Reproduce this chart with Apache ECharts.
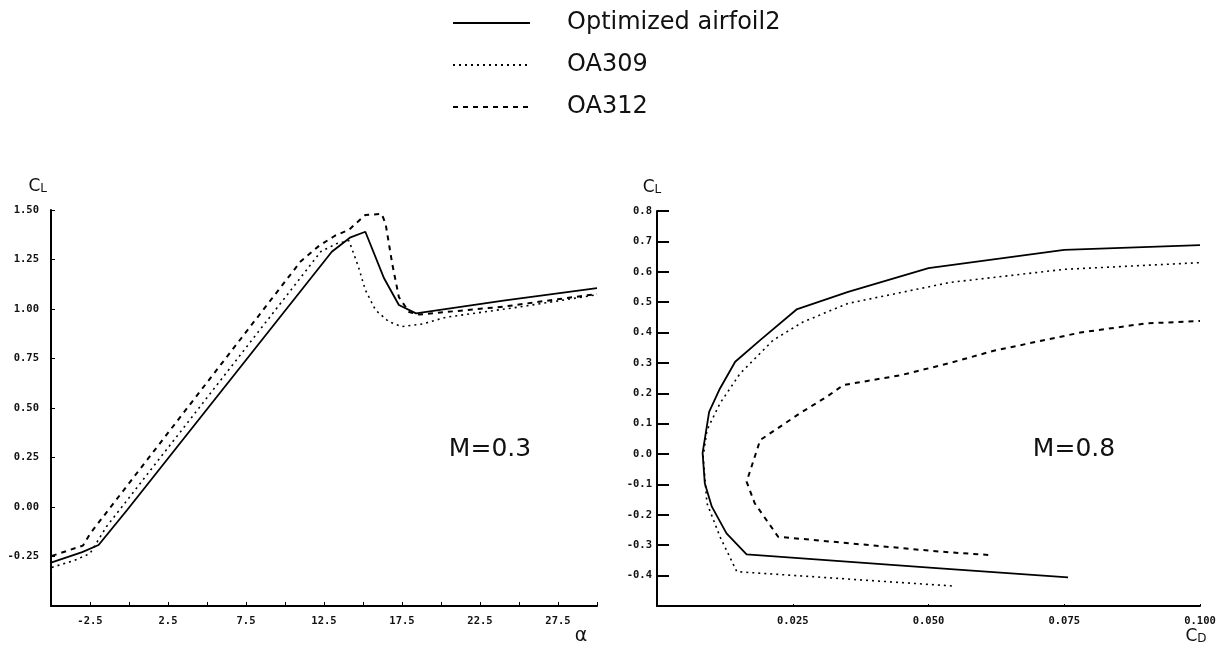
<!DOCTYPE html>
<html>
<head>
<meta charset="utf-8">
<script src="https://cdn.jsdelivr.net/npm/echarts@6/dist/echarts.min.js"></script>
<style>
html,body{margin:0;padding:0;background:#fff;}
#chart{width:1224px;height:655px;}
</style>
</head>
<body>
<div id="chart"></div>
<script>
// ---- Data: left chart (CL vs alpha, M=0.3) ----
const seriesNames = ['Optimized airfoil2', 'OA309', 'OA312'];

const leftOptAlpha = [-4.95, -3.0, -1.95, -0.12, 13.0, 14.2, 15.15, 16.35, 17.3, 18.4, 24.0, 30.0];
const leftOptCL    = [-0.28, -0.228, -0.192, -0.015, 1.289, 1.362, 1.39, 1.155, 1.02, 0.978, 1.042, 1.105];

const leftOA309Alpha = [-4.95, -3.5, -2.5, -1.45, 12.3, 13.3, 14.1, 14.7, 15.15, 15.8, 16.65, 17.5, 18.8, 20.3, 25.0, 30.0];
const leftOA309CL    = [-0.305, -0.27, -0.235, -0.1, 1.29, 1.33, 1.345, 1.215, 1.096, 0.995, 0.936, 0.911, 0.924, 0.958, 1.01, 1.072];

const leftOA312Alpha = [-4.95, -2.95, -2.48, 11.0, 12.2, 13.2, 14.1, 15.15, 16.2, 16.45, 16.87, 17.3, 17.95, 18.6, 24.0, 30.0];
const leftOA312CL    = [-0.247, -0.195, -0.133, 1.24, 1.32, 1.37, 1.40, 1.475, 1.48, 1.43, 1.23, 1.06, 0.985, 0.972, 1.012, 1.076];

// ---- Data: right chart (CL vs CD, M=0.8) ----
const rightOptCD = [0.0757, 0.0521, 0.0165, 0.0128, 0.0101, 0.0088, 0.0084, 0.0096, 0.0116, 0.0144, 0.019, 0.0257, 0.0352, 0.05, 0.075, 0.1];
const rightOptCL = [-0.406, -0.376, -0.330, -0.261, -0.173, -0.096, 0.004, 0.139, 0.216, 0.304, 0.375, 0.476, 0.534, 0.612, 0.672, 0.688];

const rightOA309CD = [0.0543, 0.0147, 0.0116, 0.0092, 0.0085, 0.0092, 0.0116, 0.0153, 0.0214, 0.0269, 0.0352, 0.054, 0.075, 0.1];
const rightOA309CL = [-0.434, -0.387, -0.272, -0.162, -0.009, 0.079, 0.167, 0.265, 0.375, 0.435, 0.496, 0.565, 0.608, 0.63];

const rightOA312CD = [0.061, 0.0521, 0.0223, 0.018, 0.0165, 0.0184, 0.019, 0.0263, 0.0313, 0.0343, 0.045, 0.054, 0.062, 0.078, 0.09, 0.1];
const rightOA312CL = [-0.332, -0.321, -0.272, -0.162, -0.091, 0.013, 0.046, 0.134, 0.189, 0.227, 0.26, 0.30, 0.34, 0.40, 0.43, 0.438];

// ---- Tick settings ----
const leftX = {min: -5, max: 30, interval: 2.5};
const leftY = {min: -0.5, max: 1.5, interval: 0.25};
const rightX = {min: 0, max: 0.1, interval: 0.025};
const rightY = {min: -0.5, max: 0.8, interval: 0.1};
const machLabels = ['M=0.3', 'M=0.8'];

function zip(a, b) { return a.map((v, i) => [v, b[i]]); }

const lineStyles = [
  {color: '#000', width: 1.8, type: 'solid'},
  {color: '#000', width: 1.6, type: [2, 4]},
  {color: '#000', width: 2, type: [5, 5]}
];

const labelFont = {color: '#111', fontFamily: 'DejaVu Sans Mono', fontSize: 10.5, fontWeight: 'bold'};
const axisLine = {show: true, onZero: false, lineStyle: {color: '#000', width: 2}};
const nameRich = {
  c: {fontFamily: 'DejaVu Sans', fontSize: 17, color: '#111'},
  s: {fontFamily: 'DejaVu Sans', fontSize: 12, color: '#111', verticalAlign: 'bottom'}
};

const chart = echarts.init(document.getElementById('chart'), null, {renderer: 'canvas'});

const option = {
  animation: false,
  backgroundColor: '#fff',
  legend: {
    orient: 'vertical',
    left: 452,
    top: 11,
    padding: 0,
    itemWidth: 77,
    itemHeight: 14,
    itemGap: 18,
    data: seriesNames,
    itemStyle: {color: 'rgba(0,0,0,0)', borderColor: 'rgba(0,0,0,0)', borderWidth: 0},
    textStyle: {fontFamily: 'DejaVu Sans', fontSize: 24, color: '#111', padding: [0, 0, 0, 32]}
  },
  title: [
    {text: machLabels[0], left: 485, top: 432, textAlign: 'center',
     textStyle: {fontFamily: 'DejaVu Sans', fontSize: 25, fontWeight: 'normal', color: '#111'}},
    {text: machLabels[1], left: 1069, top: 432, textAlign: 'center',
     textStyle: {fontFamily: 'DejaVu Sans', fontSize: 25, fontWeight: 'normal', color: '#111'}}
  ],
  grid: [
    {left: 51, top: 210, width: 546, height: 396, containLabel: false, outerBoundsMode: 'none'},
    {left: 657, top: 211, width: 543, height: 395, containLabel: false, outerBoundsMode: 'none'}
  ],
  xAxis: [
    {
      type: 'value', gridIndex: 0, min: leftX.min, max: leftX.max, interval: leftX.interval,
      axisLine: axisLine, splitLine: {show: false},
      axisTick: {show: true, inside: true, length: 4, lineStyle: {color: '#000', width: 1}},
      axisLabel: Object.assign({margin: 10, showMinLabel: true, showMaxLabel: true,
        formatter: v => (Math.abs((v + 2.5) % 5) < 1e-6 ? v.toFixed(1) : '')}, labelFont),
      name: 'α', nameLocation: 'end', nameGap: -16, nameMoveOverlap: false,
      nameTextStyle: {fontFamily: 'DejaVu Sans', fontSize: 19, color: '#111', align: 'center', verticalAlign: 'top', padding: [21, 0, 0, 0]}
    },
    {
      type: 'value', gridIndex: 1, min: rightX.min, max: rightX.max, interval: rightX.interval,
      axisLine: axisLine, splitLine: {show: false},
      axisTick: {show: true, inside: true, length: 2, lineStyle: {color: '#000', width: 1}},
      axisLabel: Object.assign({margin: 10, showMinLabel: true, showMaxLabel: true,
        formatter: v => (v === 0 ? '' : v.toFixed(3))}, labelFont),
      name: '{c|C}{s|D}', nameLocation: 'end', nameGap: -4, nameMoveOverlap: false,
      nameTextStyle: {align: 'center', verticalAlign: 'top', padding: [22, 0, 0, 0], rich: nameRich}
    }
  ],
  yAxis: [
    {
      type: 'value', gridIndex: 0, min: leftY.min, max: leftY.max, interval: leftY.interval,
      axisLine: axisLine, splitLine: {show: false},
      axisTick: {show: true, inside: true, length: 4, lineStyle: {color: '#000', width: 1}},
      axisLabel: Object.assign({margin: 12, showMinLabel: true,
        formatter: v => (Math.abs(v - leftY.min) < 1e-9 ? '' : v.toFixed(2))}, labelFont),
      name: '{c|C}{s|L}', nameLocation: 'end', nameGap: 15, nameMoveOverlap: false,
      nameTextStyle: {align: 'right', padding: [0, 4, 0, 0], rich: nameRich}
    },
    {
      type: 'value', gridIndex: 1, min: rightY.min, max: rightY.max, interval: rightY.interval,
      axisLine: axisLine, splitLine: {show: false},
      axisTick: {show: true, inside: true, length: 12, lineStyle: {color: '#000', width: 2}},
      axisLabel: Object.assign({margin: 5, showMinLabel: true,
        formatter: v => (Math.abs(v - rightY.min) < 1e-9 ? '' : v.toFixed(1))}, labelFont),
      name: '{c|C}{s|L}', nameLocation: 'end', nameGap: 15, nameMoveOverlap: false,
      nameTextStyle: {align: 'center', padding: [0, 10, 0, 0], rich: nameRich}
    }
  ],
  series: [
    {name: seriesNames[0], type: 'line', xAxisIndex: 0, yAxisIndex: 0, symbol: 'none', lineStyle: lineStyles[0], itemStyle: {color: '#000'}, data: zip(leftOptAlpha, leftOptCL)},
    {name: seriesNames[1], type: 'line', xAxisIndex: 0, yAxisIndex: 0, symbol: 'none', lineStyle: lineStyles[1], itemStyle: {color: '#000'}, data: zip(leftOA309Alpha, leftOA309CL)},
    {name: seriesNames[2], type: 'line', xAxisIndex: 0, yAxisIndex: 0, symbol: 'none', lineStyle: lineStyles[2], itemStyle: {color: '#000'}, data: zip(leftOA312Alpha, leftOA312CL)},
    {name: seriesNames[0], type: 'line', xAxisIndex: 1, yAxisIndex: 1, symbol: 'none', lineStyle: lineStyles[0], itemStyle: {color: '#000'}, data: zip(rightOptCD, rightOptCL)},
    {name: seriesNames[1], type: 'line', xAxisIndex: 1, yAxisIndex: 1, symbol: 'none', lineStyle: lineStyles[1], itemStyle: {color: '#000'}, data: zip(rightOA309CD, rightOA309CL)},
    {name: seriesNames[2], type: 'line', xAxisIndex: 1, yAxisIndex: 1, symbol: 'none', lineStyle: lineStyles[2], itemStyle: {color: '#000'}, data: zip(rightOA312CD, rightOA312CL)}
  ]
};
chart.setOption(option);
</script>
</body>
</html>
